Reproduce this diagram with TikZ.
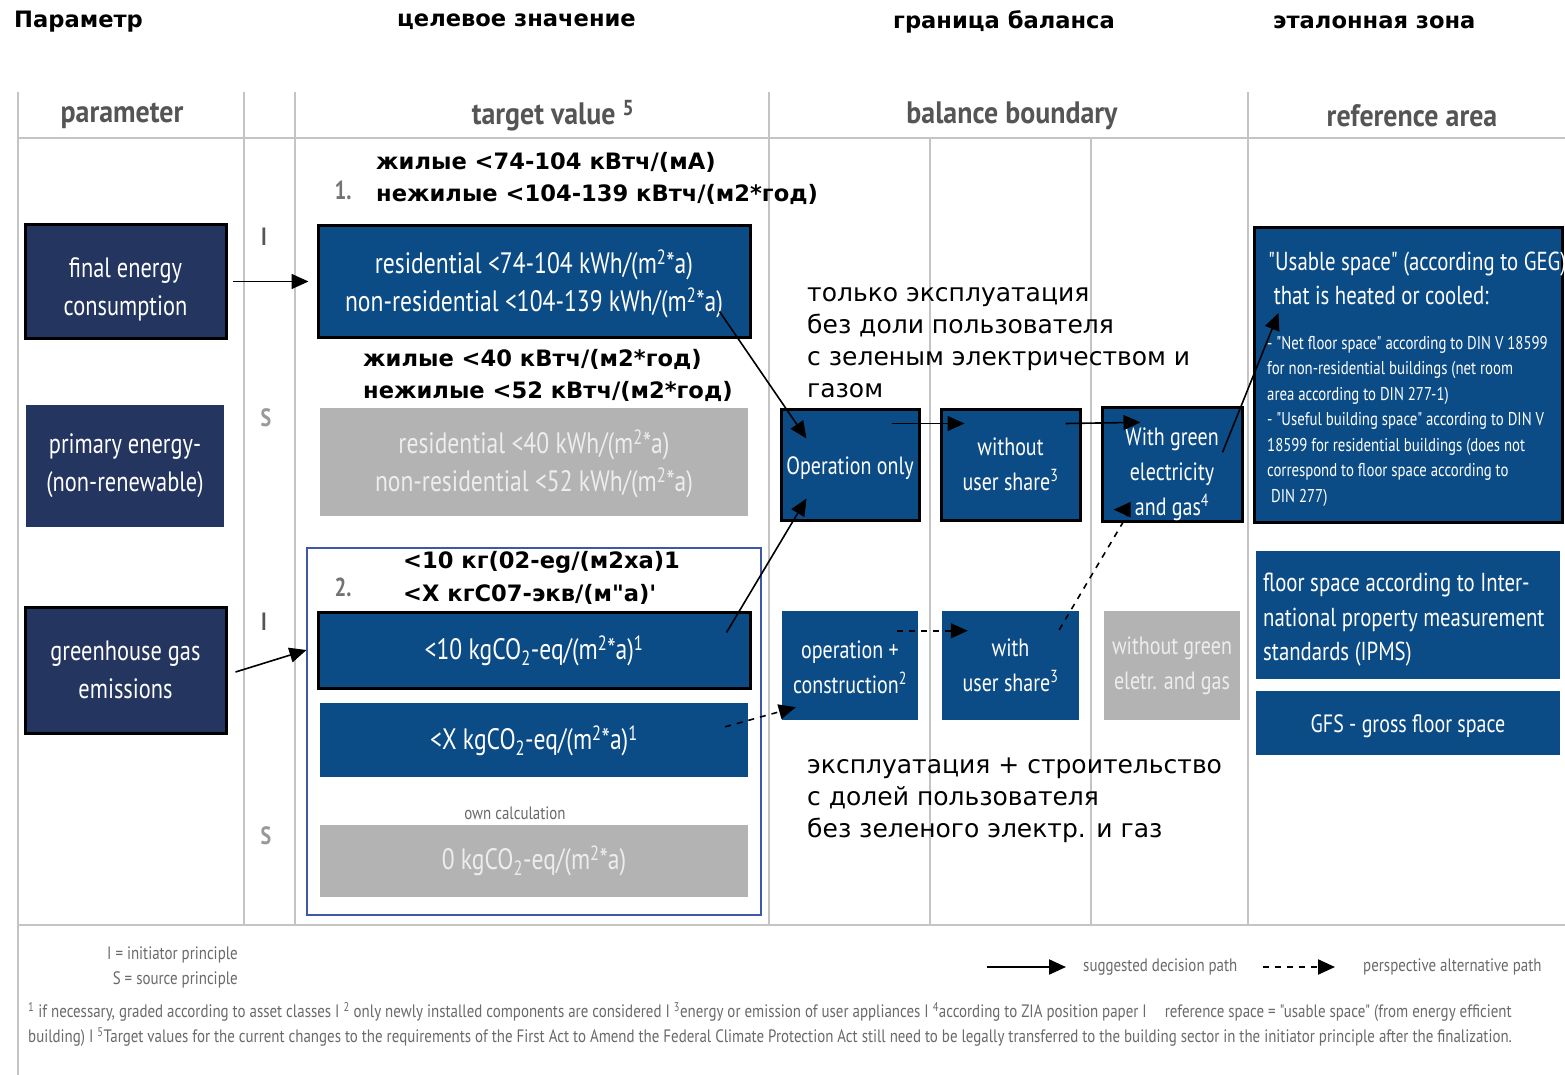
\documentclass[tikz,border=0pt]{standalone}
\usepackage{fontspec}
\setmainfont{PT Sans}
\newfontfamily\cond[FakeStretch=0.8]{PT Sans}
\newfontfamily\condH[FakeStretch=0.9]{PT Sans}
\newfontfamily\condS[FakeStretch=0.83]{PT Sans}
\newfontfamily\ruB{DejaVu Sans}
\newfontfamily\ruR{DejaVu Sans}
\usetikzlibrary{arrows.meta,calc}
\newcommand\setfs[2]{\fontsize{#1}{#2}\selectfont}
% strut that pushes a box's text block down
\newcommand\lowr[1]{\rule{0pt}{#1pt}}

\definecolor{navy}{HTML}{24355F}
\definecolor{blueb}{HTML}{0C4C86}
\definecolor{greyb}{HTML}{B3B3B3}
\definecolor{greyt}{HTML}{EDEDED}
\definecolor{rulec}{HTML}{C4C4C4}
\definecolor{headgrey}{HTML}{555555}
\definecolor{notegrey}{HTML}{6A6A6A}
\definecolor{grpblue}{HTML}{3D58A6}

\tikzset{
  tbox/.style={inner sep=0pt, align=center, text=white,
    font=\cond\setfs{28}{38}},
  navybox/.style={tbox, fill=navy},
  bluebox/.style={tbox, fill=blueb},
  greybox/.style={tbox, fill=greyb, text=greyt},
  edgeb/.style={draw=black, line width=3pt},
  balfont/.style={font=\cond\setfs{25}{35}},
  tgtfont/.style={font=\cond\setfs{29.5}{38}},
  colhead/.style={font=\condH\bfseries\setfs{31}{34}, text=headgrey},
  rutitle/.style={font=\ruB\bfseries\setfs{22.6}{26}, anchor=west, inner sep=0pt},
  runote/.style={font=\ruR\setfs{25}{32}, anchor=north west, align=left, inner sep=0pt},
  principle/.style={font=\cond\bfseries\setfs{25}{28}},
  arr/.style={-{Triangle[length=17pt,width=15pt]}, line width=1.6pt, black},
  darr/.style={arr, dash pattern=on 6pt off 6pt},
  gridline/.style={draw=rulec, line width=2pt},
  smallnote/.style={font=\condS\setfs{18}{21}, text=notegrey, inner sep=0pt},
}

\begin{document}
\begin{tikzpicture}[x=1pt, y=-1pt]
\useasboundingbox (0,0) rectangle (1565,1075);
\fill[white] (0,0) rectangle (1565,1075);

% ---- Russian column titles
\node[rutitle] (ruPar) at (14,22) {Параметр};
\node[rutitle] (ruTgt) at (397,22) {целевое значение};
\node[rutitle] (ruBal) at (893,22) {граница баланса};
\node[rutitle] (ruRef) at (1273,22) {эталонная зона};

% ---- table grid
\draw[gridline] (18,92) -- (18,1075);
\foreach \gx in {244,295,769,1248} \draw[gridline] (\gx,92) -- (\gx,925);
\foreach \gx in {930,1091} \draw[gridline] (\gx,138) -- (\gx,925);
\draw[gridline] (18,138) -- (1565,138);
\draw[gridline] (18,925) -- (1565,925);

% ---- column headings
\node[colhead] (hPar) at (122,116) {parameter};
\node[colhead] (hTgt) at (553,116) {target value \textsuperscript{5}};
\node[colhead] (hBal) at (1012,116) {balance boundary};
\node[colhead] (hRef) at (1412,116) {reference area};

% ---- parameters
\node[navybox, edgeb, minimum width=201pt, minimum height=113pt] (fec) at (125.5,281.5) {\lowr{36}final energy\\consumption};
\node[navybox, minimum width=198pt, minimum height=122pt] (pe) at (125,466) {primary energy-\\(non-renewable)};
\node[navybox, edgeb, minimum width=201pt, minimum height=126pt] (ghg) at (125.5,670) {greenhouse gas\\emissions};

% ---- principle markers
\node[principle, text=headgrey] (p1) at (264,237) {I};
\node[principle, text=gray!80] (p2) at (266,418) {S};
\node[principle, text=headgrey] (p3) at (264,622) {I};
\node[principle, text=gray!80] (p4) at (266,836) {S};

% ---- target values
\node[font=\cond\bfseries\setfs{26}{28}, text=gray!90!black] (n1) at (343,190) {1.};
\node[font=\cond\bfseries\setfs{26}{28}, text=gray!90!black] (n2) at (343,587) {2.};
\draw[draw=grpblue, line width=2.2pt] (307,548) rectangle (761,915);

\node[bluebox, edgeb, tgtfont, minimum width=432pt, minimum height=111pt] (t1) at (534,281.5)
  {\lowr{29}residential <74-104 kWh/(m\textsuperscript{2}*a)\\non-residential <104-139 kWh/(m\textsuperscript{2}*a)};
\node[greybox, tgtfont, minimum width=428pt, minimum height=108pt] (t2) at (534,462)
  {\lowr{27}residential <40 kWh/(m\textsuperscript{2}*a)\\non-residential <52 kWh/(m\textsuperscript{2}*a)};
\node[bluebox, edgeb, tgtfont, minimum width=432pt, minimum height=76pt] (t3) at (534,650)
  {\lowr{25}<10 kgCO\textsubscript{2}-eq/(m\textsuperscript{2}*a)\textsuperscript{1}};
\node[bluebox, tgtfont, minimum width=428pt, minimum height=74pt] (t4) at (534,740)
  {\lowr{25}<X kgCO\textsubscript{2}-eq/(m\textsuperscript{2}*a)\textsuperscript{1}};
\node[smallnote] (own) at (515,813) {own calculation};
\node[greybox, tgtfont, minimum width=428pt, minimum height=72pt] (t5) at (534,861)
  {\lowr{23}0 kgCO\textsubscript{2}-eq/(m\textsuperscript{2}*a)};

% ---- Russian overlays on target values
\node[rutitle] (ru1a) at (376,162) {жилые <74-104 кВтч/(мА)};
\node[rutitle] (ru1b) at (376,194) {нежилые <104-139 кВтч/(м2*год)};
\node[rutitle] (ru2a) at (363,359) {жилые <40 кВтч/(м2*год)};
\node[rutitle] (ru2b) at (363,391) {нежилые <52 кВтч/(м2*год)};
\node[rutitle] (ru3a) at (403,562) {<10 кг(02-eg/(м2xa)1};
\node[rutitle] (ru3b) at (403,594) {<X кгС07-экв/(м"a)'};

% ---- balance boundary
\node[bluebox, edgeb, balfont, minimum width=138pt, minimum height=111pt] (op) at (850,464.5) {\lowr{26}Operation only};
\node[bluebox, edgeb, balfont, minimum width=139pt, minimum height=111pt] (wo) at (1010.5,464.5) {without\\user share\textsuperscript{3}};
\node[bluebox, edgeb, balfont, minimum width=140pt, minimum height=111pt] (wg) at (1172,464.5) {\lowr{38}With green\\electricity\\and gas\textsuperscript{4}};
\node[bluebox, balfont, minimum width=136pt, minimum height=109pt] (oc) at (850,665.5) {\lowr{22}operation +\\construction\textsuperscript{2}};
\node[bluebox, balfont, minimum width=137pt, minimum height=109pt] (wu) at (1010.5,665.5) {with\\user share\textsuperscript{3}};
\node[greybox, balfont, minimum width=136pt, minimum height=109pt] (ng) at (1172,665.5) {without green\\eletr. and gas};

\node[runote] (ruOp) at (807,287) {только эксплуатация\\без доли пользователя\\с зеленым электричеством и\\газом};
\node[runote] (ruOc) at (807,758) {эксплуатация + строительство\\с долей пользователя\\без зеленого электр. и газ};

% ---- reference area
\node[bluebox, edgeb, minimum width=308pt, minimum height=294pt] (us) at (1408,375) {};
\node[anchor=north west, inner sep=0pt, align=left, text=white, font=\cond\setfs{26}{34}] (usT) at (1268,252)
  {"Usable space" (according to GEG)\\\ that is heated or cooled:};
\node[anchor=north west, inner sep=0pt, align=left, text=white, font=\cond\setfs{18.5}{25.5}] (usL) at (1267,336)
  {- "Net floor space" according to DIN V 18599\\for non-residential buildings (net room\\area according to DIN 277-1)\\- "Useful building space" according to DIN V\\18599 for residential buildings (does not\\correspond to floor space according to\\\ DIN 277)};
\node[bluebox, minimum width=304pt, minimum height=128pt] (ip) at (1408,615) {};
\node[anchor=north west, inner sep=0pt, align=left, text=white, font=\cond\setfs{26}{34.5}] (ipT) at (1263,573)
  {floor space according to Inter-\\national property measurement\\standards (IPMS)};
\node[bluebox, minimum width=304pt, minimum height=64pt, font=\cond\setfs{25}{30}] (gfs) at (1408,723) {\lowr{24}GFS - gross floor space};

% ---- suggested decision paths
\draw[arr] ([xshift=5pt]fec.east) -- ([xshift=-8pt]t1.west);
\draw[arr] ([xshift=8pt,yshift=-2pt]ghg.east) -- ([shift={(-10,0)}]t3.west);
\draw[arr] ([shift={(-32,-27)}]t1.south east) -- ([shift={(27,31)}]op.north west);
\draw[arr] ([shift={(-25,22)}]t3.north east) -- ([shift={(27,-23)}]op.south west);
\draw[arr] ([shift={(-29,16)}]op.north east) -- ([shift={(25,16)}]wo.north west);
\draw[arr] ([shift={(-16,16)}]wo.north east) -- ([shift={(40,16)}]wg.north west);
\draw[arr] ([shift={(-21,46)}]wg.north east) -- ([shift={(26,-62)}]us.west);

% ---- alternative paths
\draw[darr] ([shift={(-23,24)}]t4.north east) -- ([shift={(14,-13)}]oc.south west);
\draw[darr] ([shift={(-21,20)}]oc.north east) -- ([shift={(26,20)}]wu.north west);
\draw[darr] ([shift={(-20,19)}]wu.north east) -- ([shift={(30,-13)}]wg.south west) -- ([shift={(13,-13)}]wg.south west);

% ---- legend
\node[smallnote, anchor=east, align=right] (lgI) at (238,955) {I = initiator principle};
\node[smallnote, anchor=east, align=right] (lgS) at (238,980) {S = source principle};
\coordinate (la1) at (987,967);
\coordinate (la2) at (1066,967);
\coordinate (lb1) at (1263,967);
\coordinate (lb2) at (1335,967);
\draw[arr, line width=2.2pt] (la1) -- (la2);
\draw[darr, line width=2.2pt] (lb1) -- (lb2);
\node[smallnote, anchor=west] (lgA) at (1083,967) {suggested decision path};
\node[smallnote, anchor=west] (lgB) at (1363,967) {perspective alternative path};

% ---- footnotes
\node[smallnote, anchor=west] (fn1) at (28,1012)
  {\textsuperscript{1} if necessary, graded according to asset classes I \textsuperscript{2} only newly installed components are considered I \textsuperscript{3}energy or emission of user appliances I \textsuperscript{4}according to ZIA position paper I\quad reference space = "usable space" (from energy efficient};
\node[smallnote, anchor=west] (fn2) at (28,1037)
  {building) I \textsuperscript{5}Target values for the current changes to the requirements of the First Act to Amend the Federal Climate Protection Act still need to be legally transferred to the building sector in the initiator principle after the finalization.};
\end{tikzpicture}
\end{document}
